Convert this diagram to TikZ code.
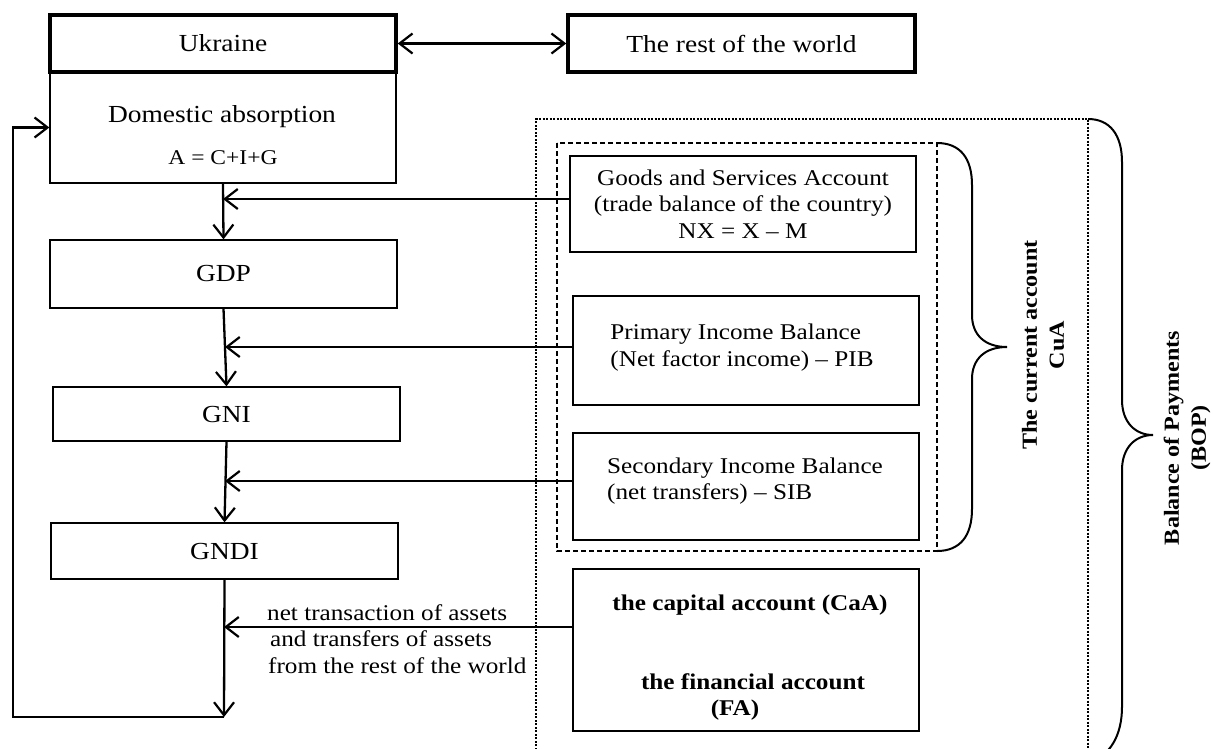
\documentclass[tikz,border=0pt]{standalone}
\usepackage{fontspec}
\setmainfont{Liberation Serif}[FakeStretch=1.12]
\usetikzlibrary{arrows.meta}
\begin{document}
\begin{tikzpicture}[x=1pt,y=-1pt,
  box/.style={draw, line width=1.3pt, inner sep=0pt, align=center},
  thickbox/.style={draw, line width=3.5pt, inner sep=0pt, align=center},
  barb/.tip={Straight Barb[length=13pt,width=20pt,line width=2.2pt]},
  arr/.style={line width=2.3pt, -barb},
  fL/.style={font=\fontsize{24.5}{29}\selectfont},
  fR/.style={font=\fontsize{22.5}{26.5}\selectfont},
  fB/.style={font=\fontsize{22.5}{26.5}\selectfont\bfseries},
  fV/.style={font=\fontsize{21.5}{27}\selectfont\bfseries},
  txt/.style={inner sep=0pt},
  dotline/.style={line width=1.2pt, dash pattern=on 2pt off 1.5pt},
  dashline/.style={line width=1.1pt, dash pattern=on 5pt off 3pt},
  bracepath/.style={line width=2pt},
]
\useasboundingbox (0,0) rectangle (1213,748);

% left column
\node[box, minimum width=346pt, minimum height=111pt] (dom) at (223,127.5) {};
\node[txt, fL] (domt1) at (222,117) {Domestic absorption};
\node[txt, font=\fontsize{21}{25}\selectfont] (domt2) at (223,158) {A = C+I+G};
\node[thickbox, fL, minimum width=346pt, minimum height=57pt] (ukr) at (223,43.5) {Ukraine};
\node[thickbox, fL, minimum width=347pt, minimum height=57pt] (rest) at (741.5,43.5) {The rest of the world};

\node[box, fL, minimum width=347pt, minimum height=68pt] (gdp) at (223.5,274) {GDP};
\node[box, fL, minimum width=347pt, minimum height=54pt] (gni) at (226.5,414) {GNI};
\node[box, fL, minimum width=347pt, minimum height=56pt] (gndi) at (224.5,551) {GNDI};

% right column
\node[box, fR, minimum width=346pt, minimum height=96pt] (goods) at (743,204)
  {Goods and Services Account\\(trade balance of the country)\\NX = X – M};
\node[box, minimum width=346pt, minimum height=109pt] (prim) at (746,350.5) {};
\node[txt, fR, align=left] (primt) at (742,347.5)
  {Primary Income Balance\\(Net factor income) – PIB};
\node[box, minimum width=346pt, minimum height=107pt] (sec) at (746,486.5) {};
\node[txt, fR, align=left] (sect) at (745,481)
  {Secondary Income Balance\\(net transfers) – SIB};
\node[box, minimum width=346pt, minimum height=162pt] (cap) at (746,650) {};
\node[txt, fB] (capt1) at (750,605) {the capital account (CaA)};
\node[txt, fB] (capt2) at (753,682) {the financial account};
\node[txt, fB] (capt3) at (735,710) {(FA)};

% grouping frames and braces
\begin{scope}
\clip (0,0) rectangle (1213,748);
\draw[dotline] (536,760) -- (536,119) -- (1088,119) -- (1088,760);
\draw[bracepath] (1088,119) .. controls (1110,119) and (1122,135) .. (1122,162)
  -- (1122,400) .. controls (1122,422) and (1135,435) .. (1153,435)
  .. controls (1135,435) and (1122,448) .. (1122,470)
  -- (1122,707) .. controls (1122,735) and (1110,757) .. (1088,762);
\end{scope}
\draw[dashline] (557,143) rectangle (937,551);
\draw[bracepath] (937,143) .. controls (960,143) and (972,158) .. (972,185)
  -- (972,315) .. controls (972,335) and (985,347) .. (1007,347)
  .. controls (985,347) and (972,359) .. (972,379)
  -- (972,509) .. controls (972,536) and (960,551) .. (937,551);

\node[fV, rotate=90, align=center, inner sep=0pt] (cua) at (1043,345) {The current account\\CuA};
\node[fV, rotate=90, align=center, inner sep=0pt] (bop) at (1187,438) {Balance of Payments\\(BOP)};

% connectors
\coordinate (j1) at (223,199);
\coordinate (j2) at (225,347);
\coordinate (j3) at (225,481);
\coordinate (j4) at (224,627);
\coordinate (bot) at (224,717);
\coordinate (lft) at (13,717);

\draw[line width=2.3pt, barb-barb] (ukr.east) -- (rest.west);
\draw[arr] (dom.south) -- (gdp.north);
\draw[arr] (gdp.south) -- (gni.north);
\draw[arr] (gni.south) -- (gndi.north);
\draw[arr] (gndi.south) -- (bot);
\draw[arr] (bot) -- (lft) |- (dom.west);

\draw[arr] (goods.west |- j1) -- (j1);
\draw[arr] (prim.west |- j2) -- (j2);
\draw[arr] (sec.west |- j3) -- (j3);
\draw[arr] (cap.west |- j4) -- (j4);

\node[txt, fR, align=left, anchor=west] (flow) at (267,639)
  {net transaction of assets\\\hspace*{3pt}and transfers of assets\\\hspace*{1pt}from the rest of the world};
\end{tikzpicture}
\end{document}
